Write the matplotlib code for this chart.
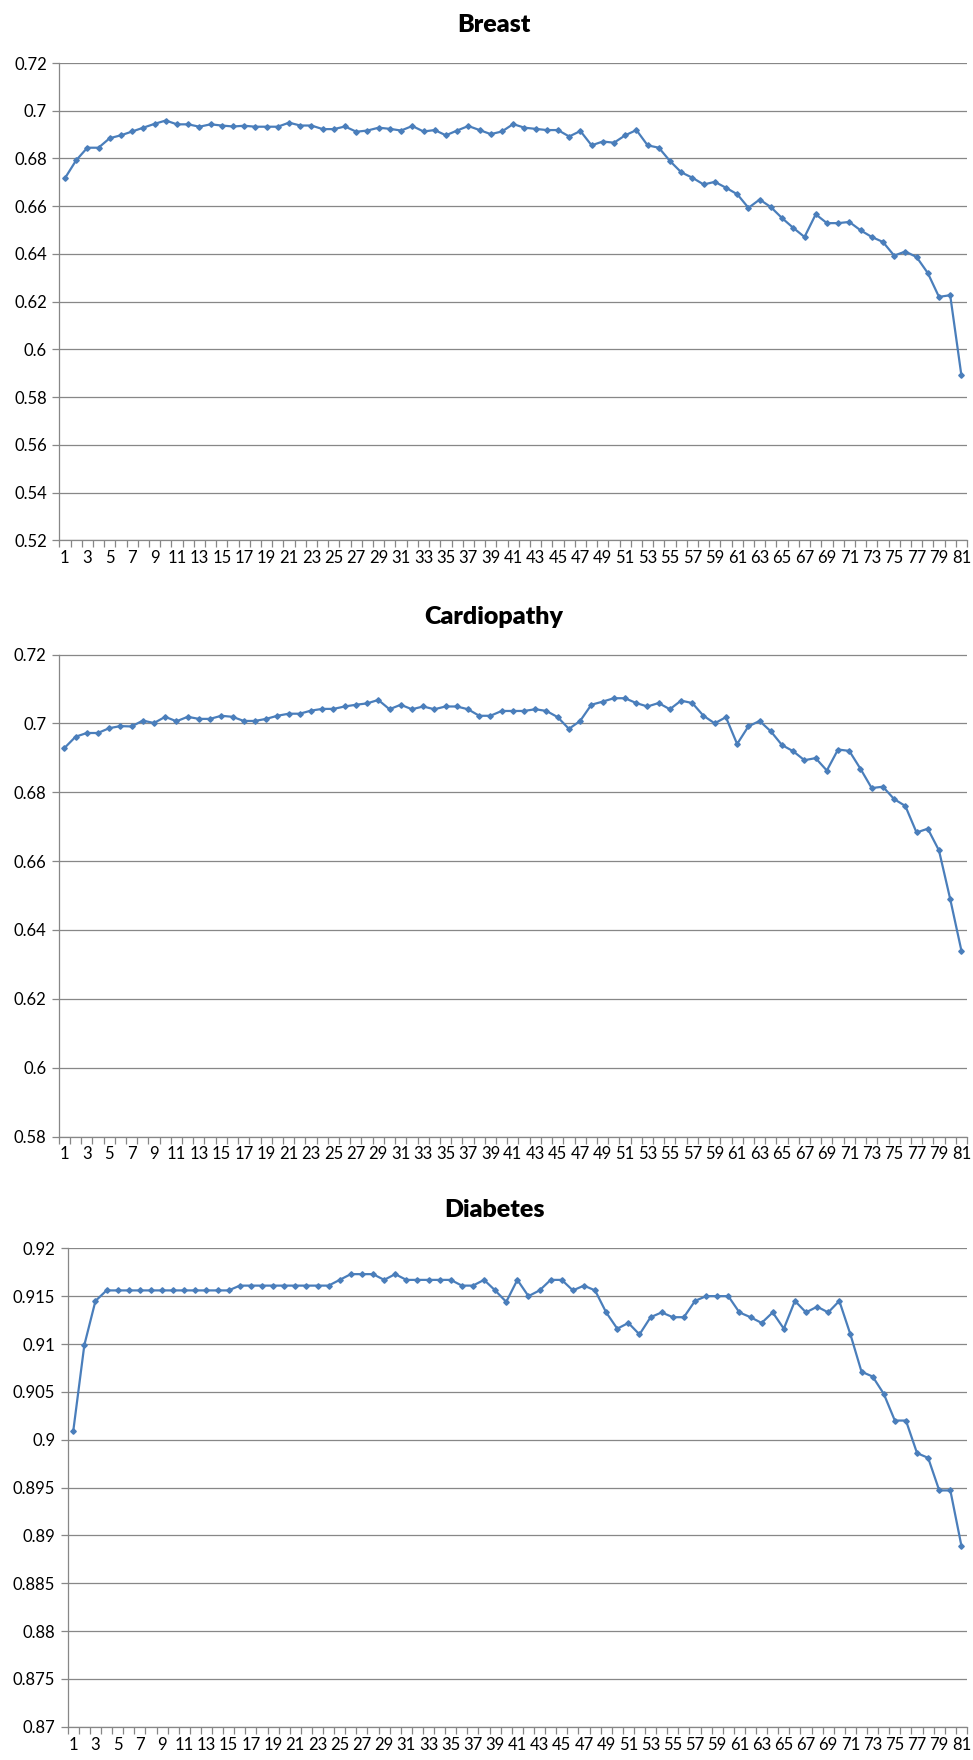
import matplotlib
matplotlib.use("Agg")
import matplotlib.pyplot as plt
from matplotlib.ticker import FormatStrFormatter, MultipleLocator, FixedLocator
import numpy as np

plt.rcParams['font.family'] = ['Lato', 'DejaVu Sans']

# feature count 1..81
steps = list(range(1, 82))
xlabels = [str(s) if s % 2 == 1 else '' for s in steps]

breast = [0.6717, 0.6792, 0.6845, 0.6845, 0.6885, 0.6897, 0.6913, 0.6929, 0.6945, 0.6959,
          0.6943, 0.6943, 0.6933, 0.6943, 0.6938, 0.6934, 0.6937, 0.6933, 0.6933, 0.6933,
          0.6950, 0.6938, 0.6938, 0.6923, 0.6923, 0.6934, 0.6912, 0.6917, 0.6929, 0.6924,
          0.6917, 0.6936, 0.6913, 0.6919, 0.6897, 0.6917, 0.6936, 0.6919, 0.6902, 0.6913,
          0.6944, 0.6929, 0.6924, 0.6919, 0.6919, 0.6892, 0.6915, 0.6855, 0.6871, 0.6866,
          0.6897, 0.6919, 0.6855, 0.6845, 0.6789, 0.6742, 0.6719, 0.6691, 0.6702, 0.6677,
          0.6650, 0.6593, 0.6628, 0.6596, 0.6550, 0.6509, 0.6471, 0.6566, 0.6529, 0.6529,
          0.6534, 0.6499, 0.6471, 0.6450, 0.6393, 0.6410, 0.6387, 0.6320, 0.6220, 0.6227,
          0.5891]

cardio = [0.6928, 0.6961, 0.6972, 0.6972, 0.6986, 0.6992, 0.6991, 0.7008, 0.7001, 0.7019,
          0.7006, 0.7019, 0.7013, 0.7013, 0.7022, 0.7019, 0.7007, 0.7007, 0.7013, 0.7022,
          0.7028, 0.7028, 0.7037, 0.7042, 0.7042, 0.7049, 0.7054, 0.7058, 0.7068, 0.7041,
          0.7054, 0.7041, 0.7049, 0.7041, 0.7049, 0.7049, 0.7041, 0.7022, 0.7022, 0.7036,
          0.7036, 0.7036, 0.7041, 0.7036, 0.7018, 0.6984, 0.7007, 0.7054, 0.7063, 0.7073,
          0.7073, 0.7059, 0.7049, 0.7059, 0.7041, 0.7066, 0.7059, 0.7022, 0.7000, 0.7018,
          0.6940, 0.6991, 0.7007, 0.6977, 0.6937, 0.6919, 0.6893, 0.6899, 0.6863, 0.6924,
          0.6920, 0.6868, 0.6812, 0.6816, 0.6780, 0.6760, 0.6683, 0.6694, 0.6631, 0.6490,
          0.6340]

diabetes = [0.9009, 0.9099, 0.9145, 0.9156, 0.9156, 0.9156, 0.9156, 0.9156, 0.9156, 0.9156,
            0.9156, 0.9156, 0.9156, 0.9156, 0.9156, 0.9161, 0.9161, 0.9161, 0.9161, 0.9161,
            0.9161, 0.9161, 0.9161, 0.9161, 0.9167, 0.9173, 0.9173, 0.9173, 0.9167, 0.9173,
            0.9167, 0.9167, 0.9167, 0.9167, 0.9167, 0.9161, 0.9161, 0.9167, 0.9156, 0.9144,
            0.9167, 0.9150, 0.9156, 0.9167, 0.9167, 0.9156, 0.9161, 0.9156, 0.9133, 0.9116,
            0.9122, 0.9110, 0.9128, 0.9133, 0.9128, 0.9128, 0.9145, 0.9150, 0.9150, 0.9150,
            0.9133, 0.9128, 0.9122, 0.9133, 0.9116, 0.9145, 0.9133, 0.9139, 0.9133, 0.9145,
            0.9110, 0.9071, 0.9066, 0.9048, 0.9020, 0.9020, 0.8986, 0.8981, 0.8947, 0.8947,
            0.8889]

titles = ['Breast', 'Cardiopathy', 'Diabetes']
series = [breast, cardio, diabetes]
ylims = [(0.52, 0.72), (0.58, 0.72), (0.87, 0.92)]
ysteps = [0.02, 0.02, 0.005]

# axes boxes in figure fractions [left, bottom, width, height]
W, H = 973, 1760
boxes = [[59.3 / W, (H - 540.3) / H, (967 - 59.3) / W, (540.3 - 63) / H],
         [58.7 / W, (H - 1136.5) / H, (967 - 58.7) / W, (1136.5 - 654.5) / H],
         [67.7 / W, (H - 1726.8) / H, (967 - 67.7) / W, (1726.8 - 1248.3) / H]]
title_y = [25, 617, 1210]

grid_c = '#878787'
line_c = '#4a7ebb'

fig = plt.figure(figsize=(W / 100, H / 100), dpi=100)
fig.patch.set_facecolor('white')

for i in range(3):
    ax = fig.add_axes(boxes[i])
    ax.plot(steps, series[i], color=line_c, lw=1.6, marker='D', ms=2.8,
            markerfacecolor=line_c, markeredgecolor=line_c, zorder=3)
    ax.set_xlim(0.5, 81.5)
    ax.set_ylim(*ylims[i])
    ax.yaxis.set_major_locator(MultipleLocator(ysteps[i]))
    ax.yaxis.set_major_formatter(FormatStrFormatter('%g'))
    ax.yaxis.grid(True, color=grid_c, lw=0.9)
    ax.set_axisbelow(True)

    ax.set_xticks(steps)
    ax.set_xticklabels(xlabels)
    ax.xaxis.set_minor_locator(FixedLocator(np.arange(0.5, 82, 1.0)))
    ax.tick_params(axis='x', which='major', length=0, labelsize=12, pad=7)
    ax.tick_params(axis='x', which='minor', length=5, color=grid_c, width=0.9)
    ax.tick_params(axis='y', length=5, color=grid_c, width=0.9, labelsize=12, pad=4)

    for s in ['top', 'right']:
        ax.spines[s].set_visible(False)
    for s in ['left', 'bottom']:
        ax.spines[s].set_color(grid_c)
        ax.spines[s].set_linewidth(0.9)

    fig.text(494 / W, 1 - title_y[i] / H, titles[i], ha='center', va='center',
             fontsize=18, fontweight='heavy')

fig.savefig('out.png', dpi=100)
